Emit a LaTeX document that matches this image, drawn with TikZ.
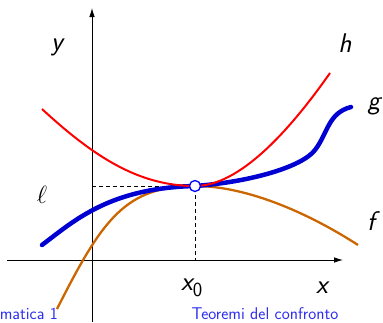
\documentclass[tikz,border=0pt]{standalone}
\usetikzlibrary{arrows.meta}
\definecolor{hred}{RGB}{255,0,0}
\definecolor{gblue}{RGB}{0,0,210}
\definecolor{fbrown}{RGB}{204,102,0}
\definecolor{ptblue}{RGB}{0,0,255}
\definecolor{footblue}{RGB}{45,45,240}
\tikzset{
  axis/.style={line width=0.8pt,-{Latex[length=9pt,width=5.5pt]}},
  guide/.style={line width=0.9pt,dash pattern=on 4pt off 3pt},
  lbl/.style={font=\fontsize{27}{30}\selectfont\sffamily\itshape,inner sep=0pt,anchor=base},
  foot/.style={font=\fontsize{17}{20}\selectfont\sffamily,text=footblue,inner sep=0pt},
  curveh/.style={hred,line width=2pt},
  curveg/.style={gblue,line width=4.5pt},
  curvef/.style={fbrown,line width=2.3pt},
}
\begin{document}
\begin{tikzpicture}[x=1pt,y=-1pt]
\useasboundingbox (0,0) rectangle (383,322);
% axes
\coordinate (xs) at (7,260);
\coordinate (xe) at (343,260);
\coordinate (ys) at (92,322);
\coordinate (ye) at (92,8);
\coordinate (P) at (195,186);
\coordinate (Ly) at (92,186);
\coordinate (Lx) at (195,260);
\draw[axis] (xs) -- (xe);
\draw[axis] (ys) -- (ye);
\draw[guide] (Ly) -- (P) -- (Lx);
% f
\draw[curvef] (57,309) .. controls (102,220) and (125,186) .. (P)
  .. controls (248,186) and (310,214) .. (358,245);
% g
\draw[curveg,line cap=round] (42,245) .. controls (75,220) and (110,188) .. (P)
  .. controls (250,182) and (302,167) .. (315,150)
  .. controls (328,133) and (328,113) .. (351,107);
% h
\draw[curveh] (42,109) .. controls (95,158) and (140,186) .. (P)
  .. controls (240,186) and (290,130) .. (330,73);
% point
\node[circle,draw=ptblue,fill=white,line width=1.3pt,minimum size=11pt,inner sep=0pt] (pt) at (P) {};
% labels
\node[lbl] (ylab) at (57,50) {y};
\node[lbl] (xlab) at (322,293) {x};
\node[lbl,anchor=base west] (x0lab) at (181,290) {x\raisebox{-6pt}{\fontsize{20}{22}\selectfont\upshape 0}};
\node[lbl] (hlab) at (345,52) {h};
\node[lbl] (glab) at (374,109) {g};
\node[lbl] (flab) at (371,230) {f};
\node[inner sep=0pt,anchor=base,font=\fontsize{28}{30}\selectfont] (ell) at (42,203) {$\ell$};
% footer
\node[foot,anchor=base east] (f1) at (58,319) {matica 1};
\node[foot,anchor=base] (f2) at (265,319) {Teoremi del confronto};
\end{tikzpicture}
\end{document}
